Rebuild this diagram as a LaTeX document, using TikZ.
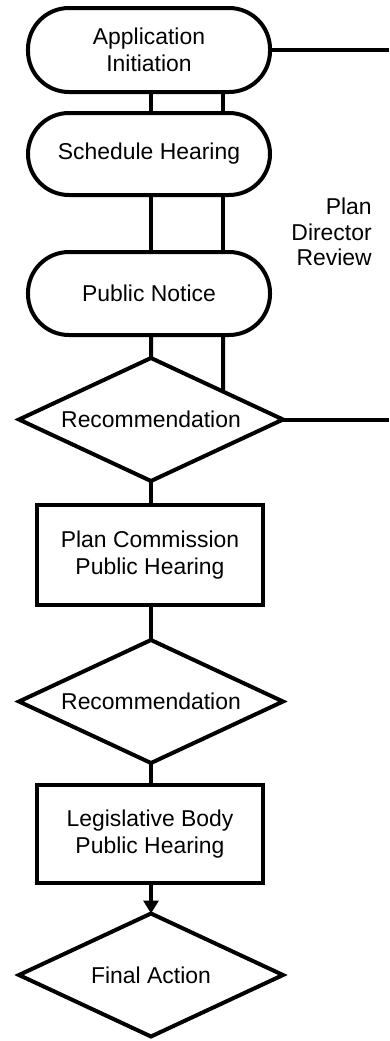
\documentclass[tikz,border=0pt]{standalone}
\usepackage{fontspec}
\setmainfont{Liberation Sans}
\usetikzlibrary{shapes.geometric,arrows.meta,calc}
\begin{document}
\begin{tikzpicture}[x=1bp,y=-1bp,
  every node/.style={font=\fontsize{23}{27}\selectfont, outer sep=0pt},
  line/.style={line width=4bp},
  term/.style={draw, line width=4bp, rectangle, rounded corners=41bp, minimum width=242bp, align=center, inner sep=0pt},
  procbox/.style={draw, line width=4bp, rectangle, minimum width=226bp, minimum height=100bp, align=center, inner sep=0pt},
  decide/.style={draw, line width=4bp, diamond, aspect=2.15, minimum width=264bp, minimum height=123bp, inner sep=0pt}
]
\useasboundingbox (0,0) rectangle (389,1041);
\node[term, minimum height=84bp] (app) at (149,50) {Application\\Initiation};
\node[term, minimum height=82bp] (sched) at (149,154) {Schedule Hearing};
\node[term, minimum height=83bp] (pn) at (149,293.5) {Public Notice};
\node[decide] (rec1) at (151,419.5) {Recommendation};
\node[procbox] (pc) at (150,555) {Plan Commission\\Public Hearing};
\node[decide] (rec2) at (151,701.5) {Recommendation};
\node[procbox, minimum height=98bp] (lb) at (150,834) {Legislative Body\\Public Hearing};
\node[decide] (fin) at (151,975) {Final Action};
\node[anchor=east, align=right, font=\fontsize{23}{25.5}\selectfont] (pdr) at (375,232) {Plan\\Director\\Review};
\coordinate (endA) at (389,50);
\coordinate (endB) at (389,419.5);
% connectors
\draw[line] (app.east) -- (endA);
\draw[line] ([xshift=2bp]app.south) -- ([xshift=2bp]sched.north);
\draw[line] ([xshift=74bp]app.south) -- ([xshift=74bp]sched.north);
\draw[line] ([xshift=2bp]sched.south) -- ([xshift=2bp]pn.north);
\draw[line] ([xshift=74bp]sched.south) -- ([xshift=74bp]pn.north);
\draw[line] ([xshift=2bp]pn.south) -- (rec1.north);
\draw[line] ([xshift=74bp]pn.south) -- ($(rec1.north)!{72/132}!(rec1.east)$);
\draw[line] (rec1.east) -- (endB);
\draw[line] (rec1.south) -- (pc.north -| rec1.south);
\draw[line] (pc.south -| rec2.north) -- (rec2.north);
\draw[line] (rec2.south) -- (lb.north -| rec2.south);
\draw[line, -{Triangle[length=13bp,width=15bp]}] (lb.south -| fin.north) -- (fin.north);
\end{tikzpicture}
\end{document}
